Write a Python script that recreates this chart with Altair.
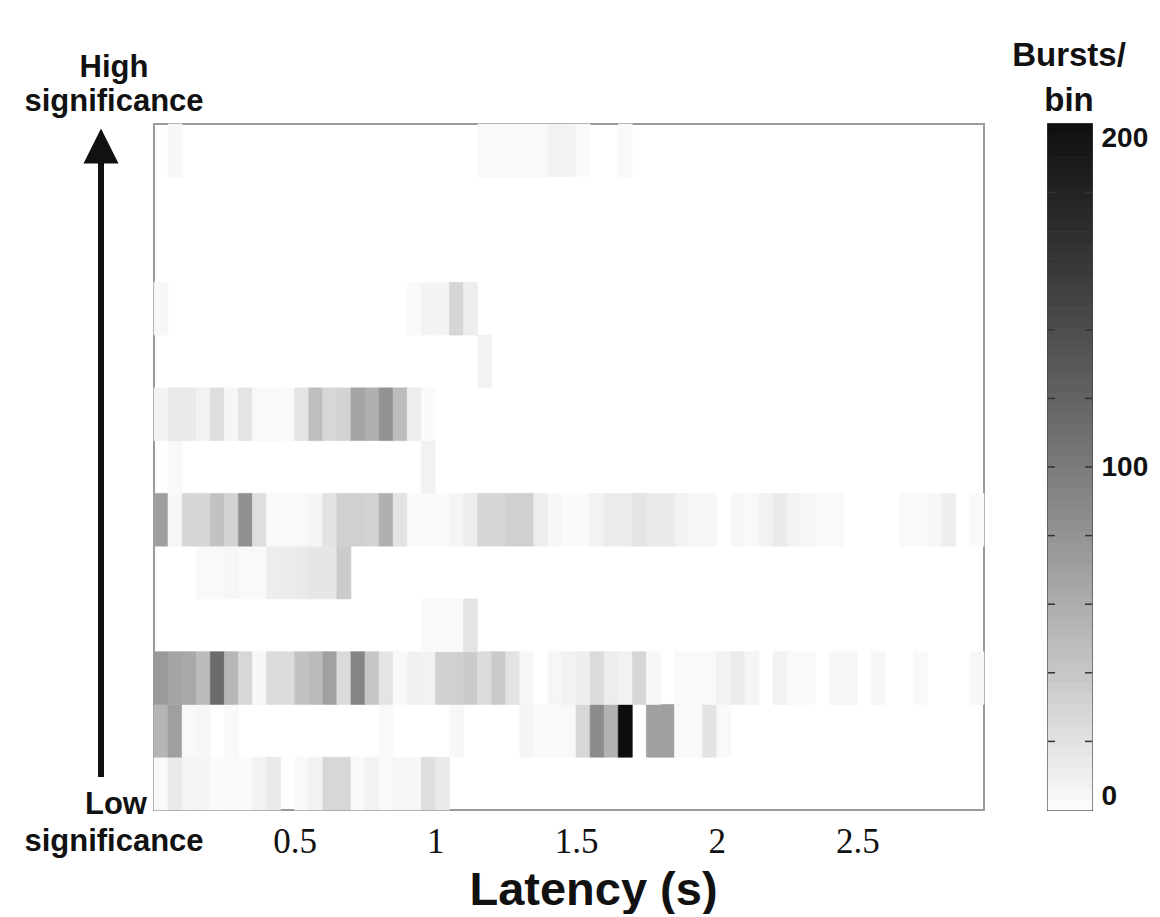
import altair as alt
import pandas as pd

# ---- data: bursts per 50 ms latency bin, one list per unit (top = highest significance) ----
bin_width = 0.05
n_bins = 59
x_ticks = [0.5, 1, 1.5, 2, 2.5]
cbar_labels = [0, 100, 200]
cbar_minor = [20, 40, 60, 80, 100, 120, 140, 160, 180]

sig_13 = [0, 4, 0, 0, 0, 0, 0, 0, 0, 0,
          0, 0, 0, 0, 0, 0, 0, 0, 0, 0,
          0, 0, 0, 3, 3, 3, 3, 3, 8, 8,
          2, 0, 0, 3, 0, 0, 0, 0, 0, 0,
          0, 0, 0, 0, 0, 0, 0, 0, 0, 0,
          0, 0, 0, 0, 0, 0, 0, 0, 0]
sig_12 = [0] * 59
sig_11 = [0] * 59
sig_10 = [4, 0, 0, 0, 0, 0, 0, 0, 0, 0,
          0, 0, 0, 0, 0, 0, 0, 0, 2, 7,
          7, 29, 12, 0, 0, 0, 0, 0, 0, 0,
          0, 0, 0, 0, 0, 0, 0, 0, 0, 0,
          0, 0, 0, 0, 0, 0, 0, 0, 0, 0,
          0, 0, 0, 0, 0, 0, 0, 0, 0]
sig_09 = [0, 0, 0, 0, 0, 0, 0, 0, 0, 0,
          0, 0, 0, 0, 0, 0, 0, 0, 0, 0,
          0, 0, 0, 8, 0, 0, 0, 0, 0, 0,
          0, 0, 0, 0, 0, 0, 0, 0, 0, 0,
          0, 0, 0, 0, 0, 0, 0, 0, 0, 0,
          0, 0, 0, 0, 0, 0, 0, 0, 0]
sig_08 = [7, 14, 14, 8, 23, 5, 18, 3, 3, 2,
          18, 47, 28, 31, 67, 58, 81, 48, 12, 2,
          0, 0, 0, 0, 0, 0, 0, 0, 0, 0,
          0, 0, 0, 0, 0, 0, 0, 0, 0, 0,
          0, 0, 0, 0, 0, 0, 0, 0, 0, 0,
          0, 0, 0, 0, 0, 0, 0, 0, 0]
sig_07 = [0, 3, 0, 0, 0, 0, 0, 0, 0, 0,
          0, 0, 0, 0, 0, 0, 0, 0, 0, 8,
          0, 0, 0, 0, 0, 0, 0, 0, 0, 0,
          0, 0, 0, 0, 0, 0, 0, 0, 0, 0,
          0, 0, 0, 0, 0, 0, 0, 0, 0, 0,
          0, 0, 0, 0, 0, 0, 0, 0, 0]
sig_06 = [71, 4, 29, 29, 44, 31, 83, 23, 3, 3,
          3, 6, 19, 33, 33, 31, 58, 19, 3, 3,
          2, 6, 12, 29, 29, 33, 33, 12, 4, 2,
          2, 8, 13, 13, 18, 14, 14, 8, 4, 4,
          0, 4, 3, 8, 14, 8, 4, 3, 3, 0,
          0, 0, 0, 3, 3, 4, 11, 0, 3]
sig_05 = [0, 0, 0, 3, 3, 5, 3, 3, 12, 12,
          14, 17, 17, 37, 0, 0, 0, 0, 0, 0,
          0, 0, 0, 0, 0, 0, 0, 0, 0, 0,
          0, 0, 0, 0, 0, 0, 0, 0, 0, 0,
          0, 0, 0, 0, 0, 0, 0, 0, 0, 0,
          0, 0, 0, 0, 0, 0, 0, 0, 0]
sig_04 = [0, 0, 0, 0, 0, 0, 0, 0, 0, 0,
          0, 0, 0, 0, 0, 0, 0, 0, 0, 3,
          3, 3, 18, 0, 0, 0, 0, 0, 0, 0,
          0, 0, 0, 0, 0, 0, 0, 0, 0, 0,
          0, 0, 0, 0, 0, 0, 0, 0, 0, 0,
          0, 0, 0, 0, 0, 0, 0, 0, 0]
sig_03 = [75, 67, 64, 49, 113, 53, 28, 4, 24, 24,
          44, 49, 69, 26, 92, 41, 18, 3, 9, 8,
          33, 33, 37, 24, 38, 19, 4, 0, 5, 8,
          10, 25, 12, 8, 29, 4, 0, 3, 3, 3,
          8, 13, 6, 0, 8, 3, 3, 0, 4, 4,
          0, 4, 0, 0, 3, 0, 0, 0, 4]
sig_02 = [54, 71, 3, 4, 0, 3, 0, 0, 0, 0,
          0, 0, 0, 0, 0, 0, 3, 0, 0, 0,
          0, 4, 0, 0, 0, 0, 6, 3, 3, 3,
          28, 86, 56, 200, 0, 70, 70, 3, 3, 19,
          3, 0, 0, 0, 0, 0, 0, 0, 0, 0,
          0, 0, 0, 0, 0, 0, 0, 0, 0]
sig_01 = [3, 14, 6, 6, 2, 2, 2, 8, 14, 0,
          3, 8, 28, 28, 3, 8, 3, 5, 5, 23,
          14, 0, 0, 0, 0, 0, 0, 0, 0, 0,
          0, 0, 0, 0, 0, 0, 0, 0, 0, 0,
          0, 0, 0, 0, 0, 0, 0, 0, 0, 0,
          0, 0, 0, 0, 0, 0, 0, 0, 0]

rows = [sig_01, sig_02, sig_03, sig_04, sig_05, sig_06, sig_07,
        sig_08, sig_09, sig_10, sig_11, sig_12, sig_13]

records = []
for r, vals in enumerate(rows):
    for k, v in enumerate(vals):
        records.append({"t0": k * bin_width, "t1": (k + 1) * bin_width,
                        "r0": r, "r1": r + 1, "count": v})
df = pd.DataFrame(records)

n_levels = 64
cb_df = pd.DataFrame({
    "lo": [i * 200 / n_levels for i in range(n_levels)],
    "hi": [(i + 1) * 200 / n_levels for i in range(n_levels)],
})
cb_df["mid"] = (cb_df["lo"] + cb_df["hi"]) / 2
minor_df = pd.DataFrame({"v": cbar_minor})
one = pd.DataFrame({"a": [0]})

cscale = alt.Scale(domain=[0, 200], range=["#fdfdfd", "#0e0e0e"], clamp=True)
SANS = "Liberation Sans"
INK = "#111111"
W, H = 830, 686

heat = alt.Chart(df).transform_filter("datum.count > 0").mark_rect(strokeWidth=0.6).encode(
    x=alt.X("t0:Q", scale=alt.Scale(domain=[0, n_bins * bin_width], nice=False, zero=False),
            axis=alt.Axis(values=x_ticks, format="~g", grid=False, ticks=False, domain=False,
                          labelFont="Liberation Serif", labelFontSize=35, labelColor=INK,
                          labelPadding=14, title="Latency (s)", titleFont=SANS,
                          titleFontWeight="bold", titleFontSize=47, titleColor=INK,
                          titleX=439, titleY=94, titleBaseline="alphabetic",
                          titleAlign="center")),
    x2="t1:Q",
    y=alt.Y("r0:Q", scale=alt.Scale(domain=[0, 13], nice=False, zero=False), axis=None),
    y2="r1:Q",
    color=alt.Color("count:Q", scale=cscale, legend=None),
    stroke=alt.Stroke("count:Q", scale=cscale, legend=None),
)

def label(txt, x, y, size=31):
    return alt.Chart(one).mark_text(text=txt, font=SANS, fontWeight="bold", fontSize=size,
                                    color=INK, align="center", baseline="alphabetic").encode(
        x=alt.value(x), y=alt.value(y))

shaft = alt.Chart(one).mark_rule(color=INK, strokeWidth=6).encode(
    x=alt.value(-53), y=alt.value(36), y2=alt.value(653))
head = alt.Chart(one).mark_point(shape="M0,-1L1,1L-1,1Z", filled=True, size=1225,
                                 color=INK, opacity=1, strokeWidth=0).encode(
    x=alt.value(-53), y=alt.value(22))

main = alt.layer(
    heat, shaft, head,
    label("High", -40, -47),
    label("significance", -40, -13),
    label("Low", -38, 690),
    label("significance", -40, 727),
).properties(width=W, height=H, view=alt.ViewBackground(stroke="#9a9a9a", strokeWidth=2))

cb_scale = alt.Scale(domain=[0, 200], nice=False, zero=True)
cb_axis = alt.Axis(orient="right", values=cbar_labels, labelFlush=True, ticks=False,
                   domain=False, grid=False, labelPadding=9, title=None,
                   labelFont=SANS, labelFontSize=28, labelFontWeight="bold",
                   labelColor=INK)

cb_rect = alt.Chart(cb_df).mark_rect(strokeWidth=0.8).encode(
    x=alt.value(0), x2=alt.value(44),
    y=alt.Y("lo:Q", scale=cb_scale, axis=cb_axis),
    y2="hi:Q",
    color=alt.Color("mid:Q", scale=cscale, legend=None),
    stroke=alt.Stroke("mid:Q", scale=cscale, legend=None),
)
tick_l = alt.Chart(minor_df).mark_rule(color="#333333", strokeWidth=1.5).encode(
    y=alt.Y("v:Q", scale=cb_scale, axis=cb_axis), x=alt.value(0), x2=alt.value(7))
tick_r = alt.Chart(minor_df).mark_rule(color="#333333", strokeWidth=1.5).encode(
    y=alt.Y("v:Q", scale=cb_scale, axis=cb_axis), x=alt.value(37), x2=alt.value(44))

cbar = alt.layer(
    cb_rect, tick_l, tick_r,
    label("Bursts/", 21, -58, 33),
    label("bin", 21, -13, 33),
).properties(width=44, height=H, view=alt.ViewBackground(stroke="#444444", strokeWidth=2))

chart = alt.hconcat(main, cbar, spacing=64, bounds="flush").properties(
    padding={"left": 15, "top": 31, "right": 0, "bottom": 0},
    background="white",
)

chart.save("out.html", embed_options={"renderer": "svg", "actions": False})
